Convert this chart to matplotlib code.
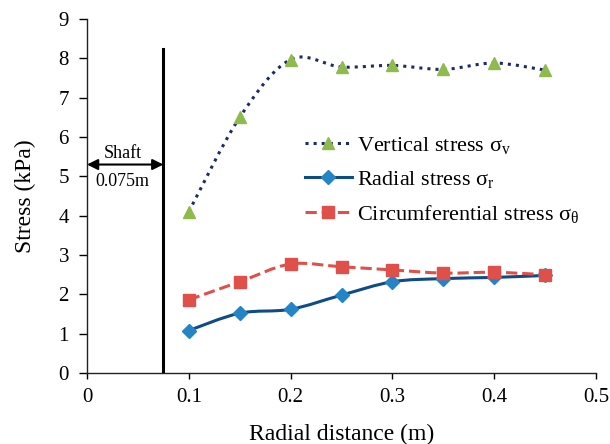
import numpy as np
import matplotlib
matplotlib.use('Agg')
import matplotlib.pyplot as plt
from matplotlib.path import Path
from matplotlib.patches import PathPatch
from matplotlib.lines import Line2D

plt.rcParams['font.family'] = ['Liberation Serif', 'DejaVu Serif']
plt.rcParams['mathtext.fontset'] = 'custom'
plt.rcParams['mathtext.rm'] = 'Liberation Serif'
plt.rcParams['mathtext.it'] = 'Liberation Serif'

radius = [0.10, 0.15, 0.20, 0.25, 0.30, 0.35, 0.40, 0.45]
vertical = [4.10, 6.50, 7.97, 7.78, 7.82, 7.72, 7.88, 7.70]
radial = [1.08, 1.52, 1.62, 1.98, 2.32, 2.40, 2.43, 2.48]
circumferential = [1.86, 2.32, 2.77, 2.70, 2.62, 2.54, 2.56, 2.50]
shaft_r = 0.075


def smooth_path(x, y):
    # Excel-style smoothed line: cubic Bezier with Catmull-Rom control points
    x = np.asarray(x, float)
    y = np.asarray(y, float)
    verts = [(x[0], y[0])]
    codes = [Path.MOVETO]
    n = len(x)
    for i in range(n - 1):
        x0, y0 = (x[i - 1], y[i - 1]) if i > 0 else (x[i], y[i])
        x3, y3 = (x[i + 2], y[i + 2]) if i + 2 < n else (x[i + 1], y[i + 1])
        c1 = (x[i] + (x[i + 1] - x0) / 6, y[i] + (y[i + 1] - y0) / 6)
        c2 = (x[i + 1] - (x3 - x[i]) / 6, y[i + 1] - (y3 - y[i]) / 6)
        verts += [c1, c2, (x[i + 1], y[i + 1])]
        codes += [Path.CURVE4] * 3
    return Path(verts, codes)


fig = plt.figure(figsize=(6.1, 4.44), dpi=100)
ax = fig.add_axes([87 / 610, 1 - 373 / 444, 509 / 610, 354 / 444])

series = [
    (vertical, '#1B2A6B', ':', 2.2, '^', '#8DBB4C', 9, 'Vertical stress σ$_\\mathrm{v}$'),
    (radial, '#0F4C86', '-', 2.2, 'D', '#2485C6', 7, 'Radial stress σ$_\\mathrm{r}$'),
    (circumferential, '#E0504A', '--', 2.2, 's', '#E0504A', 8, 'Circumferential stress σ$_\\mathrm{θ}$'),
]
handles = []
for vals, lc, ls, lw, mk, mc, ms, lab in series:
    ax.add_patch(PathPatch(smooth_path(radius, vals), fill=False, edgecolor=lc,
                           linestyle=ls, linewidth=lw, zorder=2))
    ax.plot(radius, vals, linestyle='none', marker=mk, color=mc, markersize=ms, zorder=3)
    handles.append(Line2D([], [], color=lc, linestyle=ls, linewidth=lw,
                          marker=mk, markerfacecolor=mc, markeredgecolor=mc, markersize=ms))

# shaft boundary
ax.plot([shaft_r, shaft_r], [0, 8.25], color='black', linewidth=2.2, zorder=2)
ax.annotate('', xy=(0, 5.3), xytext=(shaft_r, 5.3),
            arrowprops=dict(arrowstyle='<|-|>', color='black', lw=1.5,
                            mutation_scale=16, shrinkA=0, shrinkB=0))
ax.text(0.035, 5.36, 'Shaft', ha='center', va='bottom', fontsize=13)
ax.text(0.035, 5.08, '0.075m', ha='center', va='top', fontsize=13)

ax.legend(handles, [s[-1] for s in series], loc='upper left',
          bbox_to_anchor=(0.428, 0.672), frameon=False, fontsize=16,
          handlelength=2.1, labelspacing=0.58, handletextpad=0.25,
          borderpad=0, borderaxespad=0)

ax.set_xlim(0, 0.5)
ax.set_ylim(0, 9)
ax.set_xticks(np.arange(0, 0.51, 0.1))
ax.set_xticklabels(['0', '0.1', '0.2', '0.3', '0.4', '0.5'])
ax.set_yticks(range(0, 10))
for s in ['top', 'right']:
    ax.spines[s].set_visible(False)
for s in ['left', 'bottom']:
    ax.spines[s].set_color('#222222')
    ax.spines[s].set_linewidth(1.0)
ax.tick_params(labelsize=15, direction='out', width=1)
ax.tick_params(axis='x', length=4, pad=7)
ax.tick_params(axis='y', length=6, pad=7)
ax.set_xlabel('Radial distance (m)', fontsize=17)
ax.set_ylabel('Stress (kPa)', fontsize=17)
ax.xaxis.set_label_coords(0.5, -0.144)
ax.yaxis.set_label_coords(-0.10, 0.5)

fig.savefig('out.png', dpi=100)
